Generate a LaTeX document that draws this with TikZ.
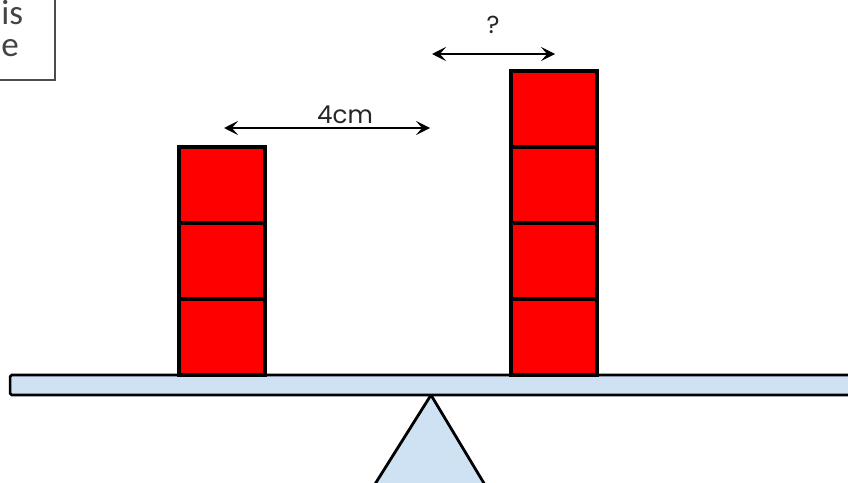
\documentclass[tikz,border=0pt]{standalone}
\usepackage{fontspec}
\setmainfont{Poppins}
\newfontfamily\notefont{Carlito}
\usetikzlibrary{arrows.meta}

\definecolor{blockred}{RGB}{255,0,0}
\definecolor{beamblue}{RGB}{207,226,243}
\definecolor{notegray}{RGB}{68,68,68}

\begin{document}
\begin{tikzpicture}[
  x=0.02cm, y=-0.02cm,
  block/.style  = {draw, line width=2pt, fill=blockred, inner sep=0pt,
                   minimum width=1.72cm, minimum height=1.52cm},
  beam/.style   = {draw, line width=1.5pt, fill=beamblue, rounded corners=1pt,
                   inner sep=0pt, minimum width=17.2cm, minimum height=0.4cm},
  stand/.style  = {draw, line width=1.6pt, fill=beamblue, line join=miter},
  dim/.style    = {line width=1.1pt, {Stealth[length=8pt,width=8pt,inset=3.5pt]}-{Stealth[length=8pt,width=8pt,inset=3.5pt]}},
  lbl/.style    = {font=\fontsize{14}{16}\selectfont, text=black!85, inner sep=0pt},
  note/.style   = {draw=black!70, line width=0.6pt},
  notetxt/.style= {font=\notefont\fontsize{20}{22}\selectfont, text=notegray, inner sep=0pt},
]
  \useasboundingbox (0,0) rectangle (848,483);
  \clip (0,0) rectangle (848,483);

  % the note in the corner, cut by the page
  \draw[note] (-60,-20) rectangle (55,80);
  \node[notetxt, anchor=base west] (note1) at (1,25) {is};
  \node[notetxt, anchor=base west] (note2) at (1,57) {e};

  % fulcrum and beam
  \coordinate (pivot) at (431,395);
  \draw[stand] (pivot) -- (365,500) -- (494,500) -- cycle;
  \node[beam] (beam) at (440,385) {};

  % stacks: three on the left, four on the right
  \foreach \i in {1,2,3}
    \node[block] (L\i) at (222,413-76*\i) {};
  \foreach \i in {1,2,3,4}
    \node[block] (R\i) at (554,413-76*\i) {};

  % distances from the pivot
  \coordinate (d1) at (224,128);
  \coordinate (d2) at (430,128);
  \coordinate (q1) at (432,54);
  \coordinate (q2) at (555,54);
  \draw[dim] (d1) -- (d2);
  \draw[dim] (q1) -- (q2);
  \node[lbl, anchor=base] (dist) at (345,123) {4cm};
  \node[lbl, anchor=base] (ask) at (493,34) {?};
\end{tikzpicture}
\end{document}
